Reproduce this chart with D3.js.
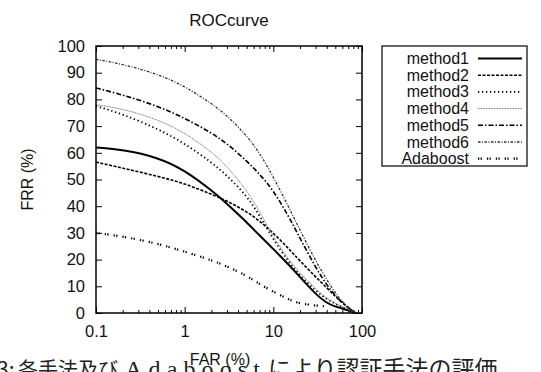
<!DOCTYPE html>
<html><head><meta charset="utf-8">
<script src="https://cdn.jsdelivr.net/npm/d3@7/dist/d3.min.js"></script>
<style>
html,body{margin:0;padding:0;background:#fff;overflow:hidden}
svg{display:block}
</style></head>
<body>
<svg id="chart" width="541" height="372"></svg>
<script>
// ---- data ----
const title = "ROCcurve";
const xLabel = "FAR (%)";
const yLabel = "FRR (%)";
const seriesNames = ["method1","method2","method3","method4","method5","method6","Adaboost"];
const xMajorTicks = [0.1, 1, 10, 100];
const xMajorTickLabels = ["0.1", "1", "10", "100"];
const yTicks = [0,10,20,30,40,50,60,70,80,90,100];
const farValues = [0.1,0.2,0.5,1,2,3,5,7,10,15,20,30,40,50,60,70,80,85];
const method1 = [62,61.2,58.3,53.5,46,41,34,29,24,18,13.5,7,3.7,2.4,1.7,1,0.3,0];
const method2 = [56.5,54.3,51.2,48.5,44.5,42,38,34.5,30,24,19.5,13.5,9.5,6.2,3.8,2,0.6,0];
const method3 = [77.5,74.5,69,63.5,56.5,51.5,44,36.5,27.5,19,14,8.3,5.2,3.4,2.2,1.2,0.4,0];
const method4 = [78,76.5,72.5,67.5,60.5,55,46,38,28.5,19.8,15,9,5.5,3.6,2.4,1.3,0.4,0];
const method5 = [84.3,81.7,77.5,73,67.5,63.5,57,52,46,36,28,17,10.5,6.5,3.8,2,0.6,0];
const method6 = [95,93.2,89.5,85,78.5,74,66.5,60,51,39.5,31,19.5,12.5,7.5,4.2,2,0.6,0];
const adaFar = [0.1,0.2,0.5,1,2,3,5,7,10,15,20,30,38];
const adaboost = [30,28.7,26,23,19.8,17.5,14,10.8,8,5,3.5,2.8,2.5];
const captionParts = ["3:", "各手法及び", "Adaboost", "により認証手法の評価"];

// ---- layout ----
const L = 96, R = 362, T = 46, B = 313;
const svg = d3.select("#chart");
const font = "'Liberation Sans', Arial, Helvetica, sans-serif";

const x = d3.scaleLog().domain([0.1, 100]).range([L, R]);
const y = d3.scaleLinear().domain([0, 100]).range([B, T]);

const minorTicks = [];
[0.1, 1, 10].forEach(d => { for (let k = 2; k <= 9; k++) minorTicks.push(+(d * k).toFixed(3)); });

function styleAxis(g) {
  g.select(".domain").remove();
  g.selectAll(".tick line").attr("stroke", "#000").attr("stroke-width", 1);
  g.selectAll("text").attr("font-family", font).attr("font-size", 16.5).attr("fill", "#111");
}
svg.append("g").attr("transform", `translate(0,${B})`)
  .call(d3.axisBottom(x).tickValues(xMajorTicks).tickFormat((d, i) => xMajorTickLabels[i]).tickSize(-6).tickPadding(12))
  .call(styleAxis);
svg.append("g").attr("transform", `translate(0,${B})`)
  .call(d3.axisBottom(x).tickValues(minorTicks).tickFormat("").tickSize(-3))
  .call(styleAxis);
svg.append("g").attr("transform", `translate(0,${T})`)
  .call(d3.axisTop(x).tickValues(xMajorTicks).tickFormat("").tickSize(-6))
  .call(styleAxis);
svg.append("g").attr("transform", `translate(0,${T})`)
  .call(d3.axisTop(x).tickValues(minorTicks).tickFormat("").tickSize(-3))
  .call(styleAxis);
svg.append("g").attr("transform", `translate(${L},0)`)
  .call(d3.axisLeft(y).tickValues(yTicks).tickSize(-6).tickPadding(11))
  .call(styleAxis);
svg.append("g").attr("transform", `translate(${R},0)`)
  .call(d3.axisRight(y).tickValues(yTicks).tickFormat("").tickSize(-6))
  .call(styleAxis);

// curves
const styles = [
  {w: 2, dash: null, c: "#000"},
  {w: 1.6, dash: "3,1.5", c: "#000"},
  {w: 1.8, dash: "1.3,2.7", c: "#000"},
  {w: 1, dash: "1,0.6", c: "#777"},
  {w: 1.6, dash: "5,2,1.5,2", c: "#000"},
  {w: 1.3, dash: "2.5,1.5,1,1.5", c: "#333"},
  {w: 2.2, dash: "1.3,1.3,1.3,5", c: "#000"}
];
const seriesData = [method1, method2, method3, method4, method5, method6].map(v => v.map((d, i) => [farValues[i], d]));
seriesData.push(adaboost.map((d, i) => [adaFar[i], d]));

const line = d3.line().x(d => x(d[0])).y(d => y(d[1])).curve(d3.curveBasis);
const plot = svg.append("g");
seriesData.forEach((s, i) => {
  plot.append("path").datum(s).attr("d", line)
    .attr("fill", "none").attr("stroke", styles[i].c)
    .attr("stroke-width", styles[i].w)
    .attr("stroke-dasharray", styles[i].dash);
});

// border
svg.append("rect").attr("x", L).attr("y", T).attr("width", R - L).attr("height", B - T)
  .attr("fill", "none").attr("stroke", "#000").attr("stroke-width", 1.5);

// title
svg.append("text").attr("x", (L + R) / 2).attr("y", 26).attr("text-anchor", "middle")
  .attr("font-family", font).attr("font-size", 17).attr("fill", "#111").text(title);

// caption (cut off at bottom, under the x label)
const capFont = "'Noto Sans CJK JP', sans-serif";
const cap = svg.append("text").attr("y", 377).attr("font-family", capFont).attr("fill", "#222");
cap.append("tspan").attr("x", -3).attr("font-size", 21).text(captionParts[0]);
cap.append("tspan").attr("x", 18).attr("font-size", 20).text(captionParts[1]);
cap.append("tspan").attr("x", 125).attr("font-family", "'Liberation Serif', serif").attr("font-size", 24)
  .attr("textLength", 135).attr("lengthAdjust", "spacing").text(captionParts[2]);
cap.append("tspan").attr("x", 268).attr("font-size", 23).text(captionParts[3]);

svg.append("text").attr("x", 220).attr("y", 365).attr("text-anchor", "middle")
  .attr("font-family", font).attr("font-size", 16).attr("fill", "#111").text(xLabel);
svg.append("text").attr("transform", `translate(33,${(T + B) / 2}) rotate(-90)`).attr("text-anchor", "middle")
  .attr("font-family", font).attr("font-size", 16).attr("fill", "#111").text(yLabel);

// legend
const LB = {x: 382, y: 46, w: 145, h: 120};
const leg = svg.append("g");
leg.append("rect").attr("x", LB.x).attr("y", LB.y).attr("width", LB.w).attr("height", LB.h)
  .attr("fill", "#fff").attr("stroke", "#000").attr("stroke-width", 1.2);
seriesNames.forEach((n, i) => {
  const cy = 58.5 + i * 16.7;
  leg.append("text").attr("x", 469).attr("y", cy + 5.5).attr("text-anchor", "end")
    .attr("font-family", font).attr("font-size", 16).attr("fill", "#111").text(n);
  leg.append("line").attr("x1", 478).attr("x2", 522).attr("y1", cy).attr("y2", cy)
    .attr("stroke", styles[i].c).attr("stroke-width", styles[i].w)
    .attr("stroke-dasharray", styles[i].dash);
});
</script>
</body></html>
